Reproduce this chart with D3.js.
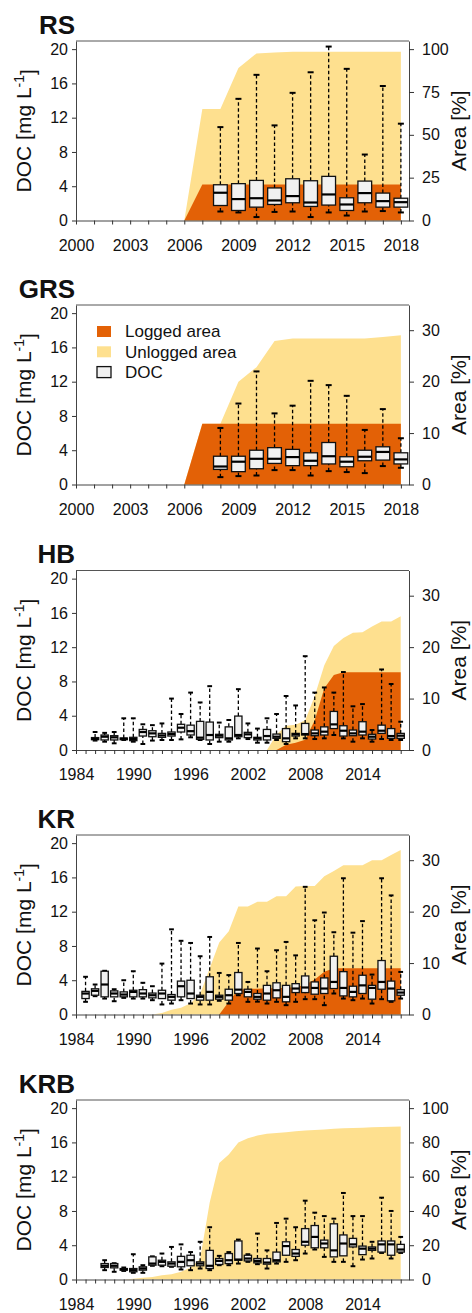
<!DOCTYPE html>
<html><head><meta charset="utf-8">
<script src="https://cdn.jsdelivr.net/npm/d3@7/dist/d3.min.js"></script>
<style>body{margin:0;background:#fff}</style>
</head><body><svg id="c" width="472" height="1313"></svg>
<script>
// ---------- DATA ----------
// DOC box stats: [year, lowerWhisker, q1, median, q3, upperWhisker]
const rsDOC = [
 [2008,1.05,1.75,3.24,4.17,10.9],[2009,0.94,1.17,2.5,4.3,14.2],[2010,0.4,1.56,2.6,4.68,17.0],
 [2011,1.0,1.87,2.34,3.8,11.1],[2012,1.05,2.07,2.85,4.87,14.9],[2013,0.4,1.64,2.1,4.64,17.3],
 [2014,0.94,1.8,3.04,5.15,20.3],[2015,0.58,1.17,1.87,2.65,17.7],[2016,1.05,2.07,3.2,4.6,7.7],
 [2017,1.1,1.56,2.26,3.2,15.7],[2018,0.94,1.56,2.14,2.6,11.3]
];
const grsDOC = [
 [2008,0.86,1.76,2.1,3.3,6.6],[2009,0.98,1.5,2.66,3.3,9.45],[2010,1.05,1.84,3.0,4.0,13.2],
 [2011,1.68,2.46,3.0,4.3,8.3],[2012,1.68,2.2,3.2,4.1,9.2],[2013,1.05,2.2,2.77,3.7,12.1],
 [2014,1.56,2.4,3.3,4.9,11.6],[2015,1.45,2.07,2.66,3.24,10.35],[2016,1.33,2.77,3.24,4.0,6.37],
 [2017,2.15,2.85,3.8,4.4,8.8],[2018,1.95,2.4,2.93,3.7,5.4]
];
const hbDOC = [
 [1986,1.1,1.2,1.3,1.45,2.1],[1987,0.97,1.17,1.55,1.75,2.0],[1988,0.78,1.17,1.48,1.67,2.1],
 [1989,1.17,1.2,1.32,1.4,3.7],[1990,0.97,1.09,1.28,1.48,3.7],[1991,0.7,1.63,2.1,2.4,3.0],
 [1992,1.1,1.55,1.94,2.25,2.9],[1993,1.17,1.48,1.7,1.94,3.1],[1994,1.17,1.63,1.86,2.1,6.0],
 [1995,1.24,2.1,2.6,3.0,4.2],[1996,1.48,1.75,2.2,2.9,6.7],[1997,1.17,1.24,1.44,3.34,5.55],
 [1998,0.7,1.17,1.75,3.26,7.45],[1999,0.97,1.44,1.67,1.83,3.2],[2000,0.97,1.17,1.36,2.7,3.5],
 [2001,1.36,1.55,1.75,3.96,7.1],[2002,1.28,1.44,1.83,2.06,3.1],[2003,0.85,1.17,1.36,1.48,2.5],
 [2004,0.85,1.17,1.63,2.4,3.7],[2005,1.17,1.36,1.55,1.86,4.2],[2006,0.7,0.97,1.36,2.5,6.3],
 [2007,1.36,1.63,1.83,1.94,5.2],[2008,1.36,1.75,1.86,3.1,10.95],[2009,1.28,1.67,1.94,2.33,6.7],
 [2010,1.36,1.75,2.14,2.7,7.3],[2011,1.75,2.5,2.99,4.5,6.7],[2012,1.36,1.63,2.25,2.83,9.1],
 [2013,0.97,1.67,1.94,2.33,5.1],[2014,1.36,1.75,2.14,3.3,5.36],[2015,0.97,1.28,1.55,1.83,2.33],
 [2016,1.28,1.94,2.25,2.9,9.4],[2017,1.17,1.36,1.63,2.5,7.7],[2018,1.17,1.36,1.67,1.94,3.3]
];
const krDOC = [
 [1985,1.48,1.86,2.45,2.7,4.4],[1986,2.14,2.25,2.76,3.0,3.5],[1987,1.86,2.06,3.5,5.05,5.1],
 [1988,1.55,2.06,2.45,2.76,2.95],[1989,1.94,2.06,2.33,2.64,4.0],[1990,1.86,2.06,2.64,2.83,5.05],
 [1991,1.86,2.06,2.45,2.9,3.7],[1992,1.67,1.94,2.25,2.5,3.3],[1993,1.17,1.86,2.45,2.83,5.94],
 [1994,1.28,1.67,2.06,2.33,9.94],[1995,1.67,2.06,3.3,3.9,8.6],[1996,1.28,1.86,2.45,4.0,8.35],
 [1997,1.17,1.67,2.06,2.25,6.8],[1998,1.17,1.67,2.64,4.4,9.05],[1999,1.6,1.79,2.06,2.25,4.85],
 [2000,1.28,1.67,2.25,2.95,4.6],[2001,2.25,2.45,2.9,4.9,8.35],[2002,1.48,2.06,2.64,2.95,3.8],
 [2003,1.5,1.79,2.06,2.45,7.7],[2004,1.28,1.67,2.45,3.4,5.05],[2005,1.48,1.94,2.83,3.7,7.5],
 [2006,1.09,1.48,2.06,3.4,8.47],[2007,1.48,2.56,3.03,3.6,6.9],[2008,1.79,2.56,3.15,4.5,14.9],
 [2009,1.79,2.37,3.1,3.8,11.0],[2010,1.09,2.45,3.03,4.27,11.9],[2011,2.45,3.03,3.8,6.8,9.6],
 [2012,1.86,2.17,3.1,5.0,15.9],[2013,1.67,2.06,2.64,3.3,9.55],[2014,1.86,2.45,3.4,4.58,10.9],
 [2015,1.28,1.79,3.1,3.4,4.66],[2016,1.79,2.95,3.8,6.3,15.9],[2017,1.48,1.6,3.03,3.9,13.9],
 [2018,1.86,2.25,2.56,2.9,4.97]
];
const krbDOC = [
 [1987,1.09,1.4,1.6,1.86,2.25],[1988,0.9,1.36,1.6,1.86,1.9],[1989,1.0,1.09,1.17,1.28,1.4],
 [1990,0.78,0.9,1.09,1.28,2.95],[1991,0.78,1.09,1.28,1.48,1.67],[1992,1.6,1.67,1.86,2.64,2.7],
 [1993,1.55,1.67,2.06,2.25,3.03],[1994,1.48,1.55,1.86,2.06,3.8],[1995,1.17,1.48,2.06,2.7,4.1],
 [1996,1.09,1.6,2.25,2.83,3.2],[1997,1.28,1.6,1.86,2.06,4.4],[1998,1.09,1.28,1.6,3.4,6.1],
 [1999,1.67,1.75,2.17,2.45,2.76],[2000,1.67,1.86,2.25,3.03,3.2],[2001,1.86,2.25,2.33,4.5,4.66],
 [2002,2.06,2.17,2.45,2.83,2.95],[2003,1.79,1.94,2.17,2.45,5.36],[2004,1.28,1.79,1.98,2.45,3.4],
 [2005,1.86,2.06,2.25,3.2,6.6],[2006,2.06,2.83,3.9,4.4,7.1],[2007,2.25,2.7,3.03,3.5,6.1],
 [2008,3.03,4.0,4.4,5.94,9.2],[2009,3.5,3.7,4.97,6.3,7.8],[2010,2.64,3.7,4.2,4.6,7.4],
 [2011,2.06,2.64,3.4,6.5,7.1],[2012,2.06,2.76,4.2,5.2,10.1],[2013,1.55,3.8,4.1,4.8,7.4],
 [2014,2.33,2.9,3.6,3.9,7.4],[2015,2.45,3.4,3.6,3.8,4.4],[2016,3.1,3.2,4.1,4.5,9.55],
 [2017,2.45,2.83,4.1,4.5,8.0],[2018,3.1,3.2,3.5,4.1,4.97]
];
// Area [%]: [year, value]
const rsUnlogged = [[2006,0],[2007,65],[2008,65],[2009,89],[2010,97.5],[2011,98],[2012,98.5],[2013,98.5],[2014,98.5],[2015,98.5],[2016,98.5],[2017,98.5],[2018,98.5]];
const rsLogged = [[2006,0],[2007,21],[2008,21],[2009,21],[2010,21],[2011,21],[2012,21],[2013,21],[2014,21],[2015,21],[2016,21],[2017,21],[2018,21]];
const grsUnlogged = [[2006,0],[2007,11.8],[2008,11.8],[2009,20],[2010,22.8],[2011,27.9],[2012,28.4],[2013,28.4],[2014,28.4],[2015,28.4],[2016,28.4],[2017,28.7],[2018,29]];
const grsLogged = [[2006,0],[2007,11.8],[2008,11.8],[2009,11.8],[2010,11.8],[2011,11.8],[2012,11.8],[2013,11.8],[2014,11.8],[2015,11.8],[2016,11.8],[2017,11.8],[2018,11.8]];
const hbUnlogged = [[2004,0],[2005,3.0],[2006,4.7],[2007,4.9],[2008,5.8],[2009,10.5],[2010,16.5],[2011,20.2],[2012,21.8],[2013,22.8],[2014,22.9],[2015,24],[2016,25],[2017,25],[2018,26]];
const hbLogged = [[2005,0],[2006,1],[2007,1.4],[2008,2],[2009,5.8],[2010,12],[2011,14.6],[2012,15.1],[2013,15.1],[2014,15.1],[2015,15.1],[2016,15.1],[2017,15.1],[2018,15.1]];
const krUnlogged = [[1992,0],[1993,0.3],[1994,0.9],[1995,1.3],[1996,2.2],[1997,4],[1998,9],[1999,14],[2000,16.2],[2001,21],[2002,21],[2003,21.9],[2004,21.9],[2005,23],[2006,23],[2007,24.9],[2008,25],[2009,25],[2010,26.9],[2011,27.9],[2012,29],[2013,29],[2014,29],[2015,30],[2016,30],[2017,31],[2018,32]];
const krLogged = [[1999,0],[2000,2.5],[2001,4.8],[2002,5.0],[2003,5.0],[2004,5.1],[2005,5.1],[2006,5.2],[2007,5.3],[2008,5.8],[2009,6.8],[2010,8.3],[2011,9.0],[2012,9.0],[2013,9.0],[2014,9.0],[2015,9.0],[2016,9.0],[2017,9.0],[2018,9.0]];
const krbUnlogged = [[1989,0],[1990,0.5],[1991,1],[1992,1.5],[1993,2.5],[1994,3],[1995,4.5],[1996,7],[1997,12],[1998,45],[1999,68],[2000,73],[2001,80],[2002,82.5],[2003,84],[2004,85],[2005,85.5],[2006,86],[2007,86.5],[2008,87],[2009,87.3],[2010,87.6],[2011,88],[2012,88.2],[2013,88.4],[2014,88.6],[2015,88.8],[2016,89],[2017,89.2],[2018,89.3]];
// Tick labels
const docTicks = [0,4,8,12,16,20];
const areaTicks100 = [0,25,50,75,100];
const areaTicks30 = [0,10,20,30];
const areaTicksKRB = [0,20,40,60,80,100];
const xLabelsShort = [2000,2003,2006,2009,2012,2015,2018];
const xLabelsLong = [1984,1990,1996,2002,2008,2014];
const legendItems = ["Logged area","Unlogged area","DOC"];

// ---------- STYLE ----------
const LOG = "#e36106", UNLOG = "#fee08f", BOXFILL = "#f1f1f1";
const FONT = "'Liberation Sans', Arial, sans-serif";
const L = 76, R = 409, H = 179.5;

const panels = [
 {name:"RS", top:41, doc:rsDOC, un:rsUnlogged, lo:rsLogged, xd:[2000,2018.45], xl:xLabelsShort, rmax:104.75, rt:areaTicks100},
 {name:"GRS", top:305, doc:grsDOC, un:grsUnlogged, lo:grsLogged, xd:[2000,2018.45], xl:xLabelsShort, rmax:34.9, rt:areaTicks30, legend:true},
 {name:"HB", top:570.5, doc:hbDOC, un:hbUnlogged, lo:hbLogged, xd:[1984,2018.87], xl:xLabelsLong, rmax:34.9, rt:areaTicks30},
 {name:"KR", top:835, doc:krDOC, un:krUnlogged, lo:krLogged, xd:[1984,2018.87], xl:xLabelsLong, rmax:34.9, rt:areaTicks30},
 {name:"KRB", top:1100, doc:krbDOC, un:krbUnlogged, lo:null, xd:[1984,2018.87], xl:xLabelsLong, rmax:104.75, rt:areaTicksKRB}
];

const svg = d3.select("#c");

panels.forEach(p => {
  const g = svg.append("g");
  const bottom = p.top + H;
  const x = d3.scaleLinear().domain(p.xd).range([L, R]);
  const yL = d3.scaleLinear().domain([0, 20.95]).range([bottom, p.top]);
  const yR = d3.scaleLinear().domain([0, p.rmax]).range([bottom, p.top]);
  const area = d3.area().x(d => x(d[0])).y0(yR(0)).y1(d => yR(d[1]));
  if (p.un) g.append("path").datum(p.un).attr("d", area).attr("fill", UNLOG);
  if (p.lo) g.append("path").datum(p.lo).attr("d", area).attr("fill", LOG);

  const step = x(p.xd[0] + 1) - x(p.xd[0]);
  const bw = step * 0.76, cw = Math.min(6, step * 0.5);
  const bx = g.append("g").selectAll("g").data(p.doc).join("g");
  bx.append("line").attr("x1", d => x(d[0])).attr("x2", d => x(d[0]))
    .attr("y1", d => yL(d[4])).attr("y2", d => yL(d[5]))
    .attr("stroke", "#000").attr("stroke-width", 1.3).attr("stroke-dasharray", "3.5,2.5");
  bx.append("line").attr("x1", d => x(d[0])).attr("x2", d => x(d[0]))
    .attr("y1", d => yL(d[1])).attr("y2", d => yL(d[2]))
    .attr("stroke", "#000").attr("stroke-width", 1.3).attr("stroke-dasharray", "3.5,2.5");
  [5, 1].forEach(k => {
    bx.append("line").attr("x1", d => x(d[0]) - cw / 2).attr("x2", d => x(d[0]) + cw / 2)
      .attr("y1", d => yL(d[k])).attr("y2", d => yL(d[k]))
      .attr("stroke", "#000").attr("stroke-width", 2);
  });
  bx.append("rect").attr("x", d => x(d[0]) - bw / 2).attr("width", bw)
    .attr("y", d => yL(d[4])).attr("height", d => Math.max(1, yL(d[2]) - yL(d[4])))
    .attr("fill", BOXFILL).attr("stroke", "#111").attr("stroke-width", 1.3);
  bx.append("line").attr("x1", d => x(d[0]) - bw / 2).attr("x2", d => x(d[0]) + bw / 2)
    .attr("y1", d => yL(d[3])).attr("y2", d => yL(d[3]))
    .attr("stroke", "#000").attr("stroke-width", 2.2);

  // axes
  const years = d3.range(p.xd[0], Math.floor(p.xd[1]) + 1);
  const ax = g.append("g").attr("transform", `translate(0,${bottom})`)
    .call(d3.axisBottom(x).tickValues(years).tickSize(4).tickSizeOuter(0).tickPadding(15)
      .tickFormat(d => p.xl.includes(d) ? String(d) : ""));
  const ayl = g.append("g").attr("transform", `translate(${L},0)`)
    .call(d3.axisLeft(yL).tickValues(docTicks).tickSize(4).tickSizeOuter(0).tickPadding(4));
  const ayr = g.append("g").attr("transform", `translate(${R},0)`)
    .call(d3.axisRight(yR).tickValues(p.rt).tickSize(5).tickSizeOuter(0).tickPadding(8));
  [ax, ayl, ayr].forEach(a => {
    a.selectAll("text").attr("font-family", FONT).attr("font-size", 16).attr("fill", "#111");
    a.selectAll("line").attr("stroke", "#333");
    a.select(".domain").attr("stroke", "#444");
  });
  g.append("line").attr("x1", L).attr("x2", R).attr("y1", p.top).attr("y2", p.top)
    .attr("stroke", "#555").attr("stroke-width", 1);

  // titles
  g.append("text").attr("x", 75).attr("y", p.top - 7.5).attr("text-anchor", "end")
    .attr("font-family", FONT).attr("font-weight", "bold").attr("font-size", 26).attr("fill", "#111").text(p.name);
  const cy = (p.top + bottom) / 2;
  const t1 = g.append("text").attr("transform", `translate(31,${cy}) rotate(-90)`).attr("text-anchor", "middle")
    .attr("font-family", FONT).attr("font-size", 21).attr("fill", "#111");
  t1.append("tspan").text("DOC [mg L");
  t1.append("tspan").attr("dy", "-0.5em").attr("font-size", 14).text("-1");
  t1.append("tspan").attr("dy", "0.5em").text("]");
  g.append("text").attr("transform", `translate(466,${cy}) rotate(-90)`).attr("text-anchor", "middle")
    .attr("font-family", FONT).attr("font-size", 21).attr("fill", "#111").text("Area [%]");

  if (p.legend) {
    const fills = [LOG, UNLOG, BOXFILL];
    const lg = g.append("g").selectAll("g").data(legendItems).join("g")
      .attr("transform", (d, i) => `translate(97,${326 + i * 20.3})`);
    lg.append("rect").attr("width", 14).attr("height", 11).attr("fill", (d, i) => fills[i])
      .attr("stroke", (d, i) => i === 2 ? "#111" : "none").attr("stroke-width", 1.3);
    lg.append("text").attr("x", 28).attr("y", 5.5).attr("dy", "0.35em")
      .attr("font-family", FONT).attr("font-size", 17).attr("fill", "#111").text(d => d);
  }
});
</script></body></html>
